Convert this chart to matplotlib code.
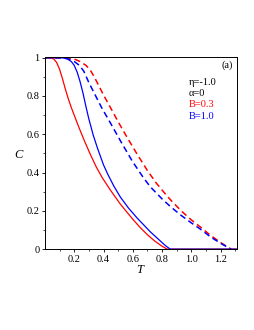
import matplotlib
matplotlib.use('agg')
import matplotlib.pyplot as plt

# values
t_red_solid = [0.0, 0.04, 0.06, 0.08, 0.10, 0.12, 0.14, 0.16, 0.18, 0.20, 0.23, 0.27,
               0.31, 0.35, 0.39, 0.45, 0.515, 0.56, 0.60, 0.65, 0.70, 0.75, 0.80, 0.835, 1.31]
c_red_solid = [1.0, 0.999, 0.993, 0.975, 0.94, 0.89, 0.835, 0.785, 0.74, 0.70, 0.64, 0.565,
               0.495, 0.43, 0.375, 0.305, 0.235, 0.193, 0.156, 0.113, 0.075, 0.042, 0.015, 0.0, 0.0]

t_blue_solid = [0.0, 0.12, 0.15, 0.18, 0.20, 0.22, 0.24, 0.26, 0.28, 0.30, 0.33, 0.36,
                0.40, 0.43, 0.47, 0.515, 0.57, 0.63, 0.68, 0.72, 0.78, 0.82, 0.855, 1.31]
c_blue_solid = [1.0, 0.999, 0.995, 0.98, 0.96, 0.925, 0.875, 0.815, 0.745, 0.68, 0.595, 0.525,
                0.44, 0.39, 0.33, 0.272, 0.215, 0.162, 0.122, 0.09, 0.048, 0.02, 0.0, 0.0]

t_red_dash = [0.0, 0.15, 0.20, 0.24, 0.28, 0.31, 0.34, 0.37, 0.40, 0.447, 0.50, 0.56,
              0.63, 0.70, 0.76, 0.82, 0.86, 0.93, 1.00, 1.07, 1.13, 1.20, 1.27]
c_red_dash = [1.0, 0.999, 0.993, 0.98, 0.96, 0.935, 0.895, 0.85, 0.805, 0.74, 0.665, 0.585,
              0.495, 0.41, 0.345, 0.29, 0.255, 0.20, 0.152, 0.11, 0.072, 0.034, 0.0]

t_blue_dash = [0.0, 0.12, 0.16, 0.20, 0.235, 0.265, 0.30, 0.34, 0.39, 0.45, 0.527, 0.60,
               0.675, 0.72, 0.80, 0.857, 0.93, 0.994, 1.06, 1.13, 1.20, 1.27]
c_blue_dash = [1.0, 0.999, 0.993, 0.98, 0.96, 0.93, 0.87, 0.81, 0.735, 0.655, 0.55, 0.455,
               0.37, 0.325, 0.262, 0.222, 0.176, 0.14, 0.105, 0.064, 0.03, 0.0]

x_ticks = [0.2, 0.4, 0.6, 0.8, 1.0, 1.2]
x_labels = ["0.2", "0.4", "0.6", "0.8", "1.0", "1.2"]
y_ticks = [0, 0.2, 0.4, 0.6, 0.8, 1.0]
y_labels = ["0", "0.2", "0.4", "0.6", "0.8", "1"]

plt.rcParams['font.family'] = ['Liberation Serif', 'DejaVu Serif']

fig = plt.figure(figsize=(2.55, 3.3), dpi=100)
ax = fig.add_axes([0.176, 0.245, 0.753, 0.582])

red = '#ff0000'
blue = '#0000ff'
ax.plot(t_red_solid, c_red_solid, c=red, lw=0.9, solid_joinstyle='round')
ax.plot(t_blue_solid, c_blue_solid, c=blue, lw=0.9, solid_joinstyle='round')
ax.plot(t_red_dash, c_red_dash, c=red, lw=1.1, dashes=(4, 2.5))
ax.plot(t_blue_dash, c_blue_dash, c=blue, lw=1.1, dashes=(4, 2.5))

ax.set_xlim(0, 1.31)
ax.set_ylim(0, 1.003)
ax.set_xticks(x_ticks)
ax.set_xticklabels(x_labels)
ax.set_yticks(y_ticks)
ax.set_yticklabels(y_labels)
ax.set_xticks([0.1, 0.3, 0.5, 0.7, 0.9, 1.1, 1.3], minor=True)
ax.set_yticks([0.1, 0.3, 0.5, 0.7, 0.9], minor=True)
ax.tick_params(which='major', direction='out', length=2.5, width=0.6, labelsize=7.5, pad=1.5)
ax.tick_params(which='minor', direction='out', length=1.5, width=0.5)
for s in ax.spines.values():
    s.set_linewidth(0.7)

ax.text(-0.14, 0.49, "C", transform=ax.transAxes, fontsize=9, style='italic',
        ha='center', va='center')
ax.text(0.495, -0.11, "T", transform=ax.transAxes, fontsize=9, style='italic',
        ha='center', va='center')

# annotations
ax.text(0.948, 0.958, "(a)", transform=ax.transAxes, fontsize=7.5, ha='center', va='center')
ax.text(0.75, 0.87, "η=-1.0", transform=ax.transAxes, fontsize=7.5, va='center')
ax.text(0.75, 0.8125, "α=0", transform=ax.transAxes, fontsize=7.5, va='center')
ax.text(0.75, 0.755, "B=0.3", transform=ax.transAxes, fontsize=7.5, va='center', color=red)
ax.text(0.75, 0.693, "B=1.0", transform=ax.transAxes, fontsize=7.5, va='center', color=blue)

fig.savefig("out.png", dpi=100)
